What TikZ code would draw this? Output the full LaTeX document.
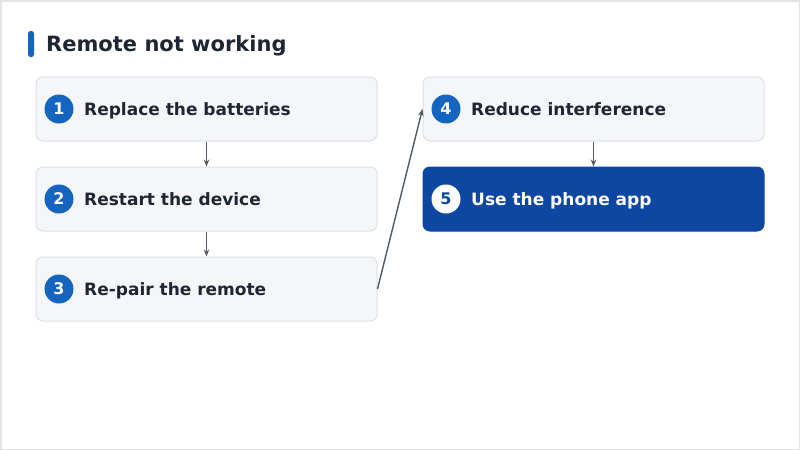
\documentclass[tikz,border=0pt]{standalone}
\usepackage{fontspec}
\setmainfont{DejaVu Sans}
\usetikzlibrary{arrows.meta}
\definecolor{boxfill}{HTML}{F5F6FA}
\definecolor{boxline}{HTML}{DDE0E6}
\definecolor{accent}{HTML}{1565C0}
\definecolor{dark}{HTML}{0D47A1}
\definecolor{txt}{HTML}{1F2633}
\definecolor{conn}{HTML}{505A68}
\definecolor{frame}{HTML}{E1E4E8}
\tikzset{
  stepbox/.style={draw=boxline, line width=1pt, fill=boxfill, rounded corners=7pt, minimum width=341pt, minimum height=64pt, inner sep=0pt},
  finalbox/.style={stepbox, draw=dark, fill=dark},
  badge/.style={circle, fill=accent, minimum size=29pt, inner sep=0pt, text=white, font=\bfseries\fontsize{16}{16}\selectfont},
  finalbadge/.style={badge, fill=white, text=dark},
  lbl/.style={anchor=base west, inner sep=0pt, text=txt, font=\bfseries\fontsize{17}{17}\selectfont},
  finallbl/.style={lbl, text=white},
  conn/.style={draw=conn, line width=1.4pt, -{Stealth[length=7pt,width=5.5pt]}}
}
\begin{document}
\begin{tikzpicture}[x=1pt,y=-1pt]
\useasboundingbox (0,0) rectangle (800,450);
\draw[frame, line width=1.5pt] (0.75,0.75) rectangle (799.25,449.25);
\fill[accent, rounded corners=2.5pt] (28,31) rectangle (34,57);
\node[anchor=base west, inner sep=0pt, text=txt, font=\bfseries\fontsize{21}{21}\selectfont] (title) at (46,51) {Remote not working};

\node[stepbox] (b1) at (206.5,109) {};
\node[stepbox] (b2) at (206.5,199) {};
\node[stepbox] (b3) at (206.5,289) {};
\node[stepbox] (b4) at (593.5,109) {};
\node[finalbox] (b5) at (593.5,199) {};

\node[badge] (c1) at (59,109) {1};
\node[badge] (c2) at (59,199) {2};
\node[badge] (c3) at (59,289) {3};
\node[badge] (c4) at (446,109) {4};
\node[finalbadge] (c5) at (446,199) {5};

\node[lbl] (t1) at (84,115) {Replace the batteries};
\node[lbl] (t2) at (84,205) {Restart the device};
\node[lbl] (t3) at (84,295) {Re-pair the remote};
\node[lbl] (t4) at (471,115) {Reduce interference};
\node[finallbl] (t5) at (471,205) {Use the phone app};

\draw[conn] (b1.south) -- (b2.north);
\draw[conn] (b2.south) -- (b3.north);
\draw[conn] (b3.east) -- (b4.west);
\draw[conn] (b4.south) -- (b5.north);
\end{tikzpicture}
\end{document}
